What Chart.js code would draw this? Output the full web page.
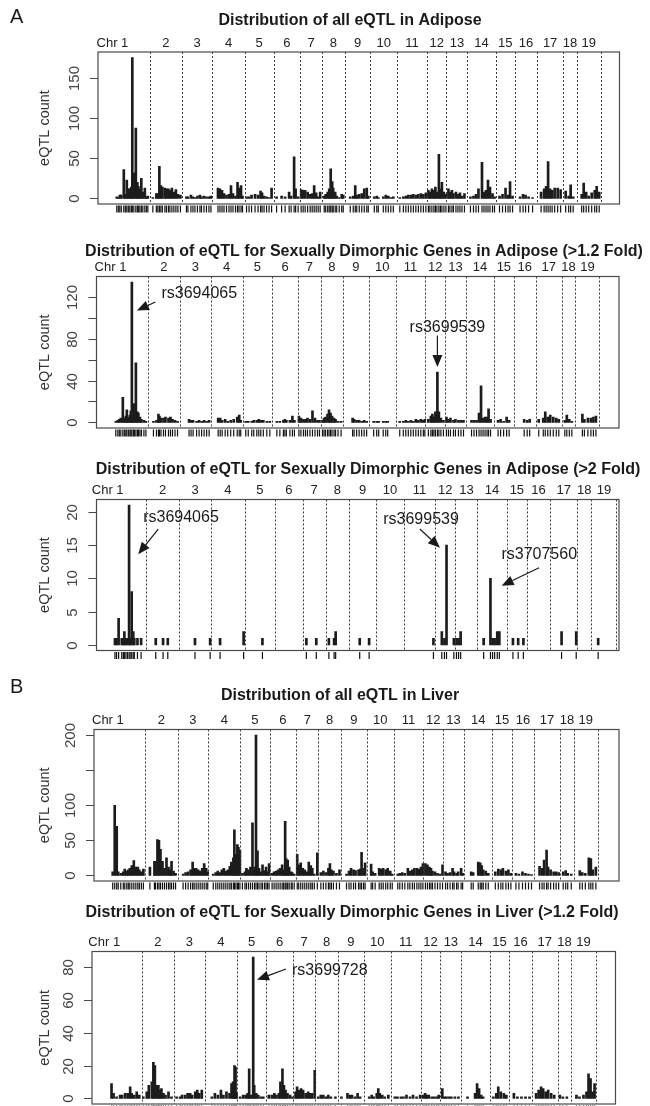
<!DOCTYPE html>
<html lang="en">
<head>
  <meta charset="UTF-8">
  <title>eQTL distribution</title>
  <script src="https://cdn.jsdelivr.net/npm/chart.js"></script>
  <style>
   body   { margin: 0; background: #fff; }
   #wrap  { position: relative; width: 650px; height: 1106px; overflow: hidden; }
   canvas { position: absolute; left: 0; top: 0; }
  </style>
</head>
<body>
<div id="wrap">
  <canvas id="p1" width="650" height="1106"></canvas>
  <canvas id="p2" width="650" height="1106"></canvas>
  <canvas id="p3" width="650" height="1106"></canvas>
  <canvas id="p4" width="650" height="1106"></canvas>
  <canvas id="p5" width="650" height="1106"></canvas>
</div>
<script>
// chromosome names and their end positions (cumulative marker position)
const chrNames = ['Chr 1','2','3','4','5','6','7','8','9','10','11','12','13','14','15','16','17','18','19'];
const chrEnd   = [66,130,191,255,313,366,410,455,506,560,619,658,700,756,795,839,891,918,966];

// [position, eQTL count]
const adiposeAll = [
  [0,2],[3,1],[6,4],[9,4],[14,36],[17,5],[20,23],[23,12],[26,12],[29,14],[31,176],[34,32],[38,88],[41,20],[43,15],[46,12],[49,25],[52,8],[56,13],[59,2],[62,3],
  [72,1],[79,6],[82,6],[85,40],[88,16],[91,14],[96,13],[99,12],[103,12],[106,10],[110,13],[114,8],[118,11],[122,5],[127,4],
  [139,2],[142,2],[148,4],[152,2],[156,1],[161,3],[166,4],[169,2],[174,3],[179,2],[184,2],[188,3],
  [202,13],[206,12],[210,10],[214,6],[219,4],[224,5],[228,16],[232,6],[237,3],[241,20],[244,13],[248,16],[251,3],
  [259,2],[264,2],[269,4],[276,5],[282,4],[287,9],[290,7],[294,3],[299,2],[304,1],[309,13],
  [319,2],[329,3],[336,2],[344,8],[348,3],[354,52],[357,12],[362,2],
  [368,11],[372,10],[376,10],[381,8],[386,5],[390,6],[394,16],[398,7],[402,2],[406,8],
  [414,3],[417,5],[421,8],[424,12],[427,37],[430,21],[432,13],[436,8],[439,3],[444,1],[449,5],[452,4],
  [466,2],[472,3],[476,16],[479,4],[484,5],[489,6],[494,12],[499,13],[502,3],
  [514,2],[519,3],[522,1],[532,2],[537,4],[542,3],[547,1],[552,2],
  [565,1],[572,2],[577,3],[582,4],[587,4],[592,5],[597,4],[602,5],[607,6],[612,5],[617,7],
  [622,10],[625,8],[629,12],[633,10],[636,14],[639,8],[643,55],[646,12],[649,20],[653,8],[657,5],
  [662,12],[665,8],[669,10],[672,6],[677,8],[681,5],[685,7],[689,3],[694,6],
  [706,2],[712,3],[717,5],[722,12],[729,45],[733,8],[737,10],[741,23],[745,14],[750,6],[754,2],
  [764,3],[770,5],[776,13],[781,4],[785,21],[790,3],
  [805,2],[811,5],[816,4],[822,2],[830,1],
  [847,8],[853,12],[857,15],[861,46],[865,12],[869,10],[874,13],[880,13],[886,11],
  [896,9],[902,3],[906,17],[911,2],
  [928,5],[932,19],[937,8],[942,3],[948,7],[954,10],[958,15],[963,8]
];
const adipose12 = [
  [2,1],[6,2],[9,3],[12,4],[16,24],[19,4],[22,6],[24,12],[27,5],[30,7],[32,11],[34,134],[37,17],[39,18],[42,57],[45,10],[47,9],[50,5],[53,3],[58,2],[62,1],
  [77,1],[83,2],[87,8],[89,6],[92,4],[97,4],[101,5],[107,4],[111,5],[115,3],[120,2],[125,1],
  [148,3],[152,2],[156,2],[163,1],[168,2],[173,1],[178,2],[183,1],[188,2],
  [206,4],[210,4],[214,2],[220,3],[225,1],[231,2],[237,3],[244,5],[248,7],[251,2],
  [261,1],[266,1],[273,1],[277,2],[283,2],[287,3],[291,2],[296,2],[303,1],[309,1],
  [323,1],[329,1],[336,2],[339,3],[342,2],[349,2],[354,6],[358,2],
  [367,6],[371,4],[376,3],[380,3],[384,4],[389,3],[394,11],[399,4],[404,2],[408,2],
  [414,2],[417,4],[420,5],[424,8],[427,12],[430,9],[433,6],[437,4],[440,3],[445,1],[451,1],
  [474,4],[477,3],[482,2],[487,2],[492,1],[497,2],[502,1],
  [516,1],[522,1],[526,1],[535,1],[540,1],[544,1],
  [568,1],[575,1],[580,2],[585,1],[590,2],[595,1],[600,3],[605,2],[610,3],[615,2],[618,3],
  [625,3],[630,6],[633,8],[636,5],[639,10],[643,48],[646,10],[650,4],[655,2],
  [661,5],[665,3],[669,4],[675,2],[679,3],[685,2],[690,2],[695,2],
  [711,2],[716,2],[721,2],[726,9],[730,35],[734,4],[738,5],[742,5],[745,13],[749,3],
  [764,2],[769,3],[775,1],[781,5],[786,2],
  [816,3],[822,2],[827,3],
  [845,3],[854,4],[858,10],[863,5],[868,7],[874,5],[880,4],[885,3],
  [897,2],[901,7],[906,3],[911,1],
  [932,8],[936,3],[943,4],[949,4],[954,5],[959,6]
];
const adipose2 = [
  [7,1],[10,1],[14,4],[20,1],[23,1],[25,2],[28,1],[31,1],[34,21],[36,1],[39,8],[42,2],[44,1],[50,1],[57,1],
  [85,1],[99,1],[108,1],
  [160,1],[189,1],
  [208,1],[253,2],
  [289,1],
  [373,1],[392,1],
  [416,1],[426,1],[429,2],
  [475,1],[493,1],
  [616,1],
  [632,2],[637,1],[641,15],[655,1],
  [660,1],[664,1],[668,2],
  [712,1],[725,10],[729,1],[733,1],[738,2],[742,2],
  [768,1],[778,1],[788,1],
  [861,2],
  [889,2],
  [931,1]
];
const liverAll = [
  [1,5],[5,100],[9,70],[12,5],[17,3],[22,5],[25,9],[29,6],[32,8],[35,10],[39,14],[43,21],[47,12],[51,12],[54,8],[58,5],[62,9],
  [75,12],[84,20],[86,20],[90,51],[93,50],[96,37],[100,20],[104,10],[108,25],[112,12],[115,8],[118,20],[122,6],[126,3],
  [141,2],[146,4],[151,5],[156,8],[160,19],[163,10],[167,10],[171,8],[175,6],[179,10],[183,17],[187,10],[190,5],
  [201,2],[206,4],[210,6],[214,4],[218,8],[222,10],[226,6],[230,8],[234,13],[237,19],[241,25],[243,65],[246,30],[249,44],[251,40],[254,36],
  [259,3],[264,5],[267,10],[271,8],[275,12],[279,75],[283,12],[286,200],[289,35],[292,10],[296,5],[299,15],[303,7],[306,12],[309,5],[312,17],
  [318,3],[322,5],[326,6],[330,8],[334,10],[338,15],[341,8],[344,77],[346,24],[349,22],[352,12],[356,5],[358,4],[362,2],
  [368,30],[371,15],[375,18],[379,10],[383,8],[387,5],[391,19],[395,14],[398,10],[402,2],[408,32],
  [415,4],[420,6],[425,4],[430,10],[433,17],[436,8],[440,6],[446,3],[452,8],
  [466,2],[471,6],[475,10],[480,8],[484,7],[490,8],[493,9],[496,33],[500,10],[503,18],
  [515,16],[518,5],[523,3],[531,10],[535,9],[539,10],[544,8],[548,10],[553,6],[557,2],
  [568,2],[572,3],[577,4],[582,3],[588,10],[592,6],[597,8],[601,10],[606,10],[610,9],[614,12],[618,17],
  [623,17],[627,15],[631,12],[634,10],[637,6],[642,5],[647,3],[652,2],[657,15],
  [663,5],[667,3],[672,4],[677,10],[680,5],[685,3],[688,5],[694,10],[697,3],
  [714,5],[718,4],[728,19],[732,18],[735,14],[738,8],[743,6],[748,3],
  [762,5],[768,9],[773,8],[777,10],[783,6],[788,8],[793,3],
  [803,3],[809,2],[816,5],[822,3],[828,2],[834,1],
  [850,13],[855,10],[859,22],[864,36],[867,12],[872,8],[878,5],[883,5],[888,4],
  [897,5],[902,7],[906,3],[913,2],
  [930,7],[935,4],[941,3],[948,25],[952,24],[956,8],[962,12]
];
const liver12 = [
  [6,9],[10,3],[16,1],[23,2],[27,2],[33,3],[38,3],[43,7],[46,3],[51,2],[56,4],[61,2],
  [69,1],[76,4],[80,8],[86,10],[89,22],[92,20],[96,8],[99,8],[102,5],[105,6],[109,3],[113,2],[119,4],[125,1],
  [135,1],[142,1],[146,2],[152,2],[157,3],[162,3],[166,2],[172,4],[176,5],[180,3],[185,5],
  [205,1],[211,3],[217,2],[223,5],[228,2],[234,4],[240,3],[244,9],[247,10],[250,20],[252,19],[254,3],
  [261,1],[267,2],[272,2],[276,3],[279,18],[282,2],[287,86],[289,8],[293,3],[297,2],[302,1],[307,1],
  [318,2],[324,2],[329,3],[333,2],[338,3],[341,10],[345,18],[348,8],[351,5],[355,3],[360,2],[365,1],
  [371,4],[374,7],[378,5],[382,6],[386,5],[391,3],[396,4],[400,3],[404,3],[409,17],
  [416,1],[421,2],[426,2],[431,1],[436,2],[441,1],[450,1],
  [462,1],[474,3],[479,2],[483,2],[489,1],[494,3],[499,1],
  [517,1],[522,2],[526,1],[532,3],[535,6],[538,3],[543,2],[548,1],[555,2],
  [568,1],[573,1],[580,1],[585,1],[591,2],[598,1],[604,2],[611,1],[618,2],
  [624,2],[628,3],[631,2],[635,2],[641,1],[646,1],[651,1],[655,2],
  [662,6],[666,1],[670,1],[675,1],[680,1],[687,1],[694,1],
  [712,1],[727,3],[731,9],[735,6],[739,2],[743,1],
  [763,1],[769,3],[773,7],[778,4],[784,3],[789,2],
  [804,3],[811,1],[819,1],[827,1],[835,1],
  [848,3],[853,5],[858,7],[862,6],[867,4],[872,5],[878,3],[884,2],
  [895,2],[901,1],[909,1],
  [928,2],[934,1],[942,2],[948,4],[952,15],[956,12],[960,4],[964,9]
];

// y ticks (all) and the ones R kept a label for
const ticks1 = [0,50,100,150],          labels1 = [0,50,100,150];
const ticks2 = [0,20,40,60,80,100,120], labels2 = [0,40,80,120];
const ticks3 = [0,5,10,15,20],          labels3 = [0,5,10,15,20];
const ticks4 = [0,50,100,150,200],      labels4 = [0,50,100,200];
const ticks5 = [0,20,40,60,80],         labels5 = [0,20,40,60,80];

// SNP call-outs: text at (x,y), arrow from (x0,y0) to (x1,y1), all in data units
const notes2 = [
  { text: 'rs3694065', x: 93, y: 123, x0: 81, y0: 115, x1: 44, y1: 107, align: 'left' },
  { text: 'rs3699539', x: 663, y: 91, x0: 643, y0: 83, x1: 643, y1: 53, align: 'center' }
];
const notes3 = [
  { text: 'rs3694065', x: 61, y: 19.1, x0: 89.7, y0: 17.4, x1: 51.5, y1: 13.6, align: 'left' },
  { text: 'rs3699539', x: 520, y: 18.8, x0: 590, y0: 17.4, x1: 628.5, y1: 14.6, align: 'left' },
  { text: 'rs3707560', x: 746, y: 13.5, x0: 818, y0: 11.6, x1: 746.4, y1: 8.9, align: 'left' }
];
const notes5 = [
  { text: 'rs3699728', x: 364, y: 78, x0: 352, y0: 78.8, x1: 294.5, y1: 72.2, align: 'left' }
];

const FONT = '"Liberation Sans", Arial, sans-serif';
const W = 650, H = 1106;

function overlay(cfg) {
  return {
    id: 'overlay_' + cfg.id,
    afterDraw(chart) {
      const ctx = chart.ctx, xs = chart.scales.x, ys = chart.scales.y, a = chart.chartArea;
      ctx.save();
      // chromosome boundaries
      ctx.strokeStyle = '#3a3a3a'; ctx.lineWidth = 1; ctx.setLineDash([2, 2]);
      chrEnd.forEach(g => {
        const px = Math.round(xs.getPixelForValue(g)) + 0.5;
        ctx.beginPath(); ctx.moveTo(px, a.top); ctx.lineTo(px, a.bottom); ctx.stroke();
      });
      ctx.setLineDash([]);
      // box
      ctx.strokeStyle = '#4a4a4a'; ctx.lineWidth = 1.2;
      ctx.strokeRect(a.left, a.top, a.right - a.left, a.bottom - a.top);
      // rug
      ctx.strokeStyle = '#111'; ctx.lineWidth = 1.2;
      cfg.series.forEach(d => {
        const px = xs.getPixelForValue(d[0]);
        ctx.beginPath(); ctx.moveTo(px, a.bottom + 1.5); ctx.lineTo(px, a.bottom + 8.5); ctx.stroke();
      });
      // y axis ticks + rotated labels
      ctx.strokeStyle = '#4a4a4a'; ctx.lineWidth = 1;
      ctx.fillStyle = '#444'; ctx.font = '15px ' + FONT;
      ctx.textAlign = 'center'; ctx.textBaseline = 'middle';
      cfg.ticks.forEach(t => {
        const py = Math.round(ys.getPixelForValue(t)) + 0.5;
        ctx.beginPath(); ctx.moveTo(a.left - 8, py); ctx.lineTo(a.left, py); ctx.stroke();
        if (cfg.labels.includes(t)) {
          ctx.save(); ctx.translate(a.left - 23.5, py); ctx.rotate(-Math.PI / 2);
          ctx.fillText(String(t), 0, 0); ctx.restore();
        }
      });
      ctx.font = '14.5px ' + FONT; ctx.fillStyle = '#333';
      ctx.save(); ctx.translate(44.5, (a.top + a.bottom) / 2); ctx.rotate(-Math.PI / 2);
      ctx.fillText('eQTL count', 0, 0); ctx.restore();
      // chromosome labels
      ctx.fillStyle = '#222'; ctx.font = '13px ' + FONT;
      chrEnd.forEach((g, i) => {
        const start = i === 0 ? 0 : chrEnd[i - 1];
        const px = xs.getPixelForValue((start + g) / 2);
        if (i === 0) { ctx.textAlign = 'right'; ctx.fillText(chrNames[i], px - 5, a.top - 9); }
        else { ctx.textAlign = 'center'; ctx.fillText(chrNames[i], px, a.top - 9); }
      });
      // title
      ctx.textAlign = 'center'; ctx.font = 'bold 16px ' + FONT; ctx.fillStyle = '#1a1a1a';
      ctx.fillText(cfg.title, cfg.titleX, cfg.titleY);
      if (cfg.letter) {
        ctx.font = '20px ' + FONT; ctx.textAlign = 'left';
        ctx.fillText(cfg.letter, 10, cfg.letterY);
      }
      // call-outs
      ctx.font = '16px ' + FONT; ctx.fillStyle = '#1a1a1a'; ctx.strokeStyle = '#1a1a1a';
      (cfg.notes || []).forEach(n => {
        ctx.textAlign = n.align;
        ctx.fillText(n.text, xs.getPixelForValue(n.x), ys.getPixelForValue(n.y));
        const x0 = xs.getPixelForValue(n.x0), y0 = ys.getPixelForValue(n.y0);
        const x1 = xs.getPixelForValue(n.x1), y1 = ys.getPixelForValue(n.y1);
        const ang = Math.atan2(y1 - y0, x1 - x0), L = 12, hw = 5;
        const bx = x1 - L * Math.cos(ang), by = y1 - L * Math.sin(ang);
        ctx.lineWidth = 1.2;
        ctx.beginPath(); ctx.moveTo(x0, y0); ctx.lineTo(bx, by); ctx.stroke();
        ctx.beginPath();
        ctx.moveTo(x1, y1);
        ctx.lineTo(bx + hw * Math.sin(ang), by - hw * Math.cos(ang));
        ctx.lineTo(bx - hw * Math.sin(ang), by + hw * Math.cos(ang));
        ctx.closePath(); ctx.fill();
      });
      ctx.restore();
    }
  };
}

function drawPanel(cfg) {
  const top = Math.max(...cfg.series.map(d => d[1]));
  new Chart(document.getElementById(cfg.id), {
    type: 'bar',
    data: {
      datasets: [{
        data: cfg.series.map(d => ({ x: d[0], y: d[1] })),
        backgroundColor: '#1c1c1c', borderWidth: 0, barThickness: 2
      }]
    },
    options: {
      responsive: false, animation: false, devicePixelRatio: 1,
      layout: { padding: { left: cfg.box[0], top: cfg.box[1], right: W - cfg.box[2], bottom: H - cfg.box[3] } },
      scales: {
        x: { type: 'linear', min: cfg.xr[0], max: cfg.xr[1], offset: false, display: false },
        y: { min: -0.04 * top, max: 1.04 * top, display: false }
      },
      plugins: { legend: { display: false }, tooltip: { enabled: false } }
    },
    plugins: [overlay(cfg)]
  });
}

drawPanel({ id: 'p1', series: adiposeAll, ticks: ticks1, labels: labels1, box: [98, 52, 619.5, 204], xr: [-37.5, 1003.5],
  title: 'Distribution of all eQTL in Adipose', titleX: 350, titleY: 21, letter: 'A', letterY: 17 });
drawPanel({ id: 'p2', series: adipose12, ticks: ticks2, labels: labels2, box: [96.5, 276.5, 619, 428], xr: [-36.5, 1005],
  title: 'Distribution of eQTL for Sexually Dimorphic Genes in Adipose (>1.2 Fold)', titleX: 364, titleY: 252, notes: notes2 });
drawPanel({ id: 'p3', series: adipose2, ticks: ticks3, labels: labels3, box: [96.5, 499.5, 619, 650.5], xr: [-28.3, 970.8],
  title: 'Distribution of eQTL for Sexually Dimorphic Genes in Adipose (>2 Fold)', titleX: 368, titleY: 470, notes: notes3 });
drawPanel({ id: 'p4', series: liverAll, ticks: ticks4, labels: labels4, box: [94, 729.5, 619, 881], xr: [-36.2, 1008],
  title: 'Distribution of all eQTL in Liver', titleX: 340, titleY: 696, letter: 'B', letterY: 687 });
drawPanel({ id: 'p5', series: liver12, ticks: ticks5, labels: labels5, box: [92, 951.5, 615.5, 1104], xr: [-32.7, 1005.5],
  title: 'Distribution of eQTL for Sexually Dimorphic Genes in Liver (>1.2 Fold)', titleX: 352, titleY: 913, notes: notes5 });
</script>
</body>
</html>
